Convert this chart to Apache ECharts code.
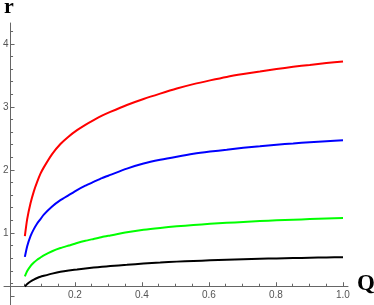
<!DOCTYPE html>
<html>
<head>
<meta charset="utf-8">
<script src="https://cdn.jsdelivr.net/npm/echarts@6/dist/echarts.min.js"></script>
<style>
html,body{margin:0;padding:0;background:#fff;}
#c{width:374px;height:305px;}
</style>
</head>
<body>
<div id="c"></div>
<script>
// Data
var qValues = [0.043, 0.05, 0.06, 0.07, 0.08, 0.09, 0.1, 0.125, 0.15, 0.175, 0.2, 0.225, 0.25, 0.275, 0.3, 0.35, 0.4, 0.45, 0.5, 0.55, 0.6, 0.65, 0.7, 0.75, 0.8, 0.85, 0.9, 0.95, 1.0];
var rRed   = [0.95, 1.22, 1.47, 1.66, 1.81, 1.94, 2.04, 2.25, 2.41, 2.53, 2.63, 2.715, 2.79, 2.86, 2.92, 3.03, 3.125, 3.21, 3.29, 3.36, 3.42, 3.475, 3.52, 3.56, 3.60, 3.635, 3.665, 3.695, 3.72];
var rBlue  = [0.62, 0.79, 0.95, 1.06, 1.15, 1.22, 1.29, 1.42, 1.52, 1.60, 1.68, 1.75, 1.81, 1.87, 1.92, 2.02, 2.10, 2.16, 2.21, 2.255, 2.29, 2.32, 2.35, 2.375, 2.40, 2.42, 2.44, 2.455, 2.47];
var rGreen = [0.31, 0.395, 0.475, 0.53, 0.575, 0.61, 0.645, 0.71, 0.76, 0.80, 0.84, 0.875, 0.905, 0.935, 0.96, 1.01, 1.05, 1.08, 1.105, 1.125, 1.145, 1.16, 1.175, 1.19, 1.20, 1.21, 1.22, 1.228, 1.235];
var rBlack = [0.15, 0.19, 0.23, 0.26, 0.285, 0.305, 0.32, 0.355, 0.385, 0.405, 0.42, 0.436, 0.45, 0.463, 0.475, 0.495, 0.515, 0.53, 0.545, 0.555, 0.565, 0.575, 0.583, 0.59, 0.596, 0.601, 0.606, 0.611, 0.615];

var xMajorTicks = [0.2, 0.4, 0.6, 0.8, 1.0];
var xMinorTicks = [0.05, 0.1, 0.15, 0.25, 0.3, 0.35, 0.45, 0.5, 0.55, 0.65, 0.7, 0.75, 0.85, 0.9, 0.95];
var yMajorTicks = [0, 1, 2, 3, 4];
var yLabelTicks = [1, 2, 3, 4];
var yMinorTicks = [0.2, 0.4, 0.6, 0.8, 1.2, 1.4, 1.6, 1.8, 2.2, 2.4, 2.6, 2.8, 3.2, 3.4, 3.6, 3.8, 4.2];
var xAxisCrossing = 0.155; // r value where the Q axis crosses

var seriesColors = ['#ff0000', '#0000ff', '#00ff00', '#000000'];
var seriesData = [rRed, rBlue, rGreen, rBlack];

var axisColor = '#666';
var labelColor = '#555';
var Y_MIN = -0.143, Y_MAX = 4.33;
var X_MAX = 1.015;

function pairs(ys) { return qValues.map(function (q, i) { return [q, ys[i]]; }); }

var chart = echarts.init(document.getElementById('c'), null, {renderer: 'canvas'});
var option = {
  animation: false,
  grid: [
    {left: 8, right: 26, top: 23, bottom: 0},
    {left: 4, right: 26, top: 23, bottom: 305 - (296 - xAxisCrossing * 63.1)}
  ],
  xAxis: [
    {gridIndex: 0, type: 'value', min: 0, max: X_MAX, show: false},
    {gridIndex: 1, type: 'value', min: -0.0119, max: X_MAX, position: 'bottom', offset: 0,
     axisLine: {show: true, onZero: false, lineStyle: {color: axisColor, width: 1}},
     axisTick: {show: true, inside: true, length: 4, customValues: xMajorTicks, lineStyle: {color: axisColor}},
     axisLabel: {show: true, customValues: xMajorTicks, margin: 4, color: labelColor, fontSize: 10,
                 fontFamily: 'Liberation Sans', formatter: function (v) { return v.toFixed(1); }},
     splitLine: {show: false}},
    {gridIndex: 1, type: 'value', min: -0.0119, max: X_MAX, position: 'bottom', offset: 0,
     axisLine: {show: false, onZero: false},
     axisTick: {show: true, inside: true, length: 2.5, customValues: xMinorTicks, lineStyle: {color: axisColor}},
     axisLabel: {show: false},
     splitLine: {show: false}}
  ],
  yAxis: [
    {gridIndex: 0, type: 'value', min: Y_MIN, max: Y_MAX, position: 'left', offset: 0,
     axisLine: {show: true, onZero: false, lineStyle: {color: axisColor, width: 1}},
     axisTick: {show: true, inside: true, length: 4, customValues: yMajorTicks, lineStyle: {color: axisColor}},
     axisLabel: {show: true, customValues: yLabelTicks, margin: 2, color: labelColor, fontSize: 10,
                 fontFamily: 'Liberation Sans'},
     splitLine: {show: false}},
    {gridIndex: 0, type: 'value', min: Y_MIN, max: Y_MAX, position: 'left', offset: 0,
     axisLine: {show: false, onZero: false},
     axisTick: {show: true, inside: true, length: 2.5, customValues: yMinorTicks, lineStyle: {color: axisColor}},
     axisLabel: {show: false},
     splitLine: {show: false}},
    {gridIndex: 1, type: 'value', show: false, min: 0, max: 1}
  ],
  graphic: [
    {type: 'text', left: 4, top: -4, style: {text: 'r', font: 'bold 22px "Liberation Serif"', fill: '#000'}},
    {type: 'text', left: 357, top: 273, style: {text: 'Q', font: 'bold 23px "Liberation Serif"', fill: '#000'}}
  ],
  series: seriesData.map(function (d, i) {
    return {
      type: 'line', xAxisIndex: 0, yAxisIndex: 0,
      data: pairs(d), smooth: 0.2, showSymbol: false, symbol: 'none',
      lineStyle: {color: seriesColors[i], width: 2},
      z: 10 - i
    };
  })
};
chart.setOption(option);
</script>
</body>
</html>
